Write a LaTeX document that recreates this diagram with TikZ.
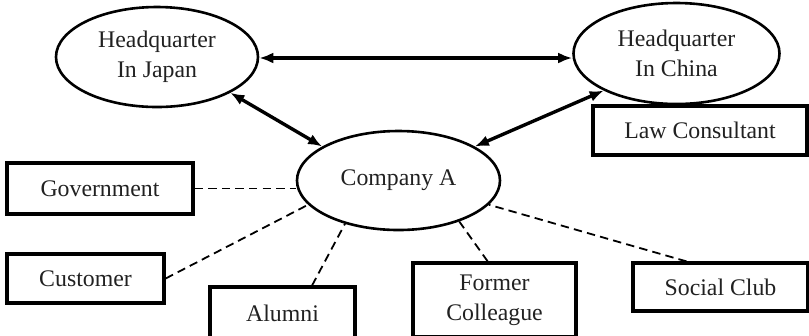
\documentclass[tikz,border=0pt]{standalone}
\usepackage{fontspec}
\setmainfont{Liberation Serif}
\usetikzlibrary{shapes.geometric,arrows.meta}
\definecolor{ink}{gray}{0.13}
\tikzset{
  ell/.style={draw, ellipse, line width=1.3bp, inner sep=0pt, align=center},
  box/.style={draw, rectangle, line width=1.6bp, inner sep=0pt, align=center},
  twoway/.style={line width=1.7bp, {Latex[length=7bp,width=5.5bp]}-{Latex[length=7bp,width=5.5bp]}},
  link/.style={line width=0.9bp, dash pattern=on 4.2bp off 2.6bp},
}
\begin{document}
\begin{tikzpicture}[x=0.5bp,y=-0.5bp,
  every node/.style={font=\fontsize{11.9bp}{15bp}\selectfont, text=ink}]
\useasboundingbox (0,0) rectangle (809,335);
\clip (0,0) rectangle (809,335);
\node[ell, minimum width=101bp, minimum height=50bp] (japan) at (157,57) {Headquarter\\In Japan};
\node[ell, minimum width=103bp, minimum height=50.5bp] (china) at (676.5,53.5) {Headquarter\\In China};
\node[ell, minimum width=101.5bp, minimum height=49.5bp] (company) at (398.5,180.5) {Company A};
\node[box, minimum width=107bp, minimum height=24.5bp] (law) at (700,130.5) {Law Consultant};
\node[box, minimum width=93bp, minimum height=25.5bp] (gov) at (100,188.5) {Government};
\node[box, minimum width=78.5bp, minimum height=24.5bp] (cust) at (85.5,278.5) {Customer};
\node[box, minimum width=72.5bp, minimum height=26bp] (alumni) at (282.5,313) {Alumni};
\node[box, minimum width=81.5bp, minimum height=37bp] (former) at (494.5,300) {Former\\Colleague};
\node[box, minimum width=87.5bp, minimum height=24bp] (social) at (720.5,287) {Social Club};

\draw[twoway] (japan.east |- 0,58) -- (china.west |- 0,58);
\draw[twoway] (japan.-26) -- (company.156);
\draw[twoway] (china.-153) -- (company.24);

\draw[link] (gov.east) -- (company.west |- gov.east);
\draw[link] (cust.east) -- (company.195);
\draw[link] (alumni.43) -- (company.219);
\draw[link] (former.100) -- (company.-34);
\draw[link] (social.143.6) -- (company.-15.3);
\end{tikzpicture}
\end{document}
